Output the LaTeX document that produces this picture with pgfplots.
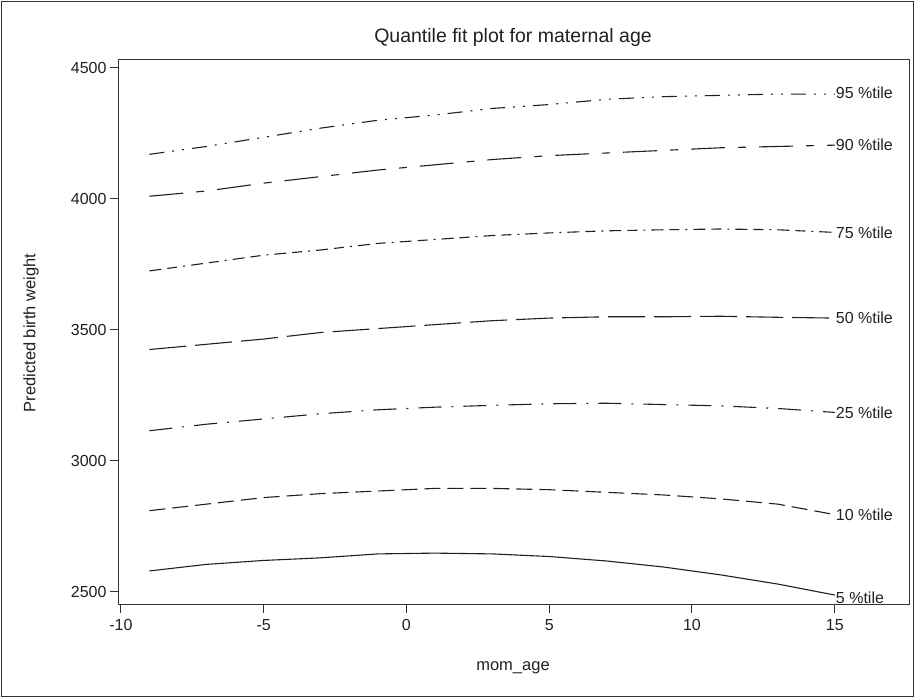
\documentclass[border=0pt]{standalone}
\usepackage{fontspec}
\setmainfont{Liberation Sans}
\usepackage{pgfplots}
\pgfplotsset{compat=1.18}
\definecolor{ink}{HTML}{202020}

\begin{document}
\begin{tikzpicture}[x=1pt,y=1pt]
\useasboundingbox (0,0) rectangle (915,698);
\draw[line width=1.2pt,black!80] (1.5,1.5) rectangle (913.5,696.5);
\begin{axis}[
    at={(118pt,93pt)}, anchor=south west,
    scale only axis,
    width=791pt, height=545pt,
    xmin=-10.1, xmax=17.6,
    ymin=2450, ymax=4530,
    xtick={-10,-5,0,5,10,15},
    ytick={2500,3000,3500,4000,4500},
    axis line style={line width=1pt,black!80},
    tick style={line width=1pt,black!80},
    tick align=outside,
    major tick length=8pt,
    xtick pos=bottom, ytick pos=left,
    /pgf/number format/assume math mode=true,
    /pgf/number format/1000 sep={},
    ticklabel style={font=\fontsize{16}{18}\selectfont, text=ink},
    xticklabel style={yshift=-3pt},
    every axis plot/.append style={line width=1.1pt, ink},
    clip=false,
]
% 95th
\addplot[dash pattern=on 15pt off 8pt on 2pt off 8pt on 2pt off 8pt] coordinates {
(-9,4170) (-7,4200) (-5,4235) (-3,4270) (-1,4300) (1,4320) (3,4345) (5,4360) (7,4380) (9,4390) (11,4395) (13,4400) (15,4400)};
% 90th
\addplot[dash pattern=on 34pt off 13pt on 8pt off 13pt] coordinates {
(-9,4010) (-7,4030) (-5,4060) (-3,4085) (-1,4110) (1,4130) (3,4150) (5,4165) (7,4175) (9,4185) (11,4195) (13,4200) (15,4205)};
% 75th
\addplot[dash pattern=on 12pt off 6pt on 10pt off 6pt on 2pt off 6pt] coordinates {
(-9,3725) (-7,3755) (-5,3785) (-3,3805) (-1,3830) (1,3845) (3,3860) (5,3870) (7,3878) (9,3882) (11,3885) (13,3882) (15,3872)};
% 50th
\addplot[dash pattern=on 37pt off 9pt] coordinates {
(-9,3425) (-7,3445) (-5,3465) (-3,3490) (-1,3505) (1,3520) (3,3535) (5,3545) (7,3550) (9,3550) (11,3552) (13,3548) (15,3545)};
% 25th
\addplot[dash pattern=on 23pt off 10pt on 2pt off 10pt] coordinates {
(-9,3115) (-7,3140) (-5,3160) (-3,3180) (-1,3195) (1,3205) (3,3212) (5,3218) (7,3220) (9,3215) (11,3210) (13,3200) (15,3185)};
% 10th
\addplot[dash pattern=on 16pt off 7pt] coordinates {
(-9,2810) (-7,2835) (-5,2860) (-3,2875) (-1,2885) (1,2895) (3,2895) (5,2890) (7,2880) (9,2870) (11,2855) (13,2835) (15,2795)};
% 5th
\addplot[solid] coordinates {
(-9,2580) (-7,2605) (-5,2620) (-3,2630) (-1,2645) (1,2648) (3,2645) (5,2635) (7,2618) (9,2595) (11,2565) (13,2530) (15,2488)};

\begin{scope}[every node/.style={anchor=west, inner sep=1pt, text=ink, font=\fontsize{16}{18}\selectfont}]
\node at (axis cs:15,4405) {95 \%tile};
\node at (axis cs:15,4205) {90 \%tile};
\node at (axis cs:15,3872) {75 \%tile};
\node at (axis cs:15,3545) {50 \%tile};
\node at (axis cs:15,3185) {25 \%tile};
\node at (axis cs:15,2795) {10 \%tile};
\node at (axis cs:15,2478) {5 \%tile};
\end{scope}
\end{axis}
\node[text=ink, font=\fontsize{19.5}{22}\selectfont] at (513,661) {Quantile fit plot for maternal age};
\node[text=ink, font=\fontsize{16.5}{18}\selectfont, rotate=90] at (31,365) {Predicted birth weight};
\node[text=ink, font=\fontsize{16.5}{18}\selectfont] at (513,30) {mom\_age};
\end{tikzpicture}
\end{document}
